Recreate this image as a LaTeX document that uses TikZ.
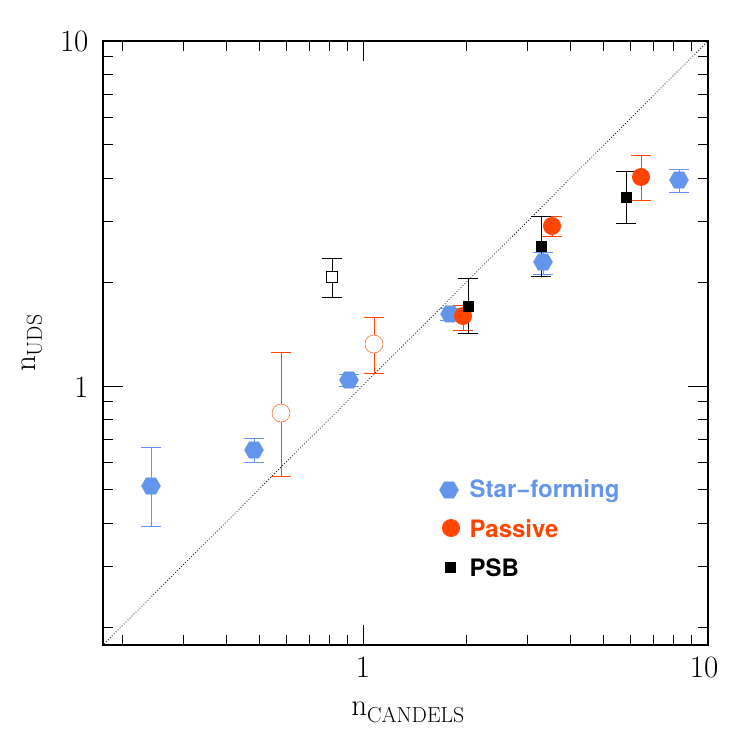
\documentclass[tikz,border=0pt]{standalone}
\usepackage{fontspec}
\newfontfamily\legfont{TeX Gyre Heros}
\usetikzlibrary{shapes.geometric}
\definecolor{sfblue}{RGB}{100,149,237}
\definecolor{pasred}{RGB}{255,69,0}
\tikzset{
 hexa/.style={regular polygon,regular polygon sides=6,fill=sfblue,draw=sfblue,inner sep=0pt,minimum size=19pt},
 fcirc/.style={circle,fill=pasred,inner sep=0pt,minimum size=18pt},
 ocirc/.style={circle,draw=pasred,inner sep=0pt,minimum size=18pt},
 fsq/.style={rectangle,fill=black,inner sep=0pt,minimum size=11pt},
 osq/.style={rectangle,draw=black,inner sep=0pt,minimum size=11pt},
 lab/.style={font=\fontsize{31}{34}\selectfont},
 leg/.style={anchor=west,font=\fontsize{24}{28}\selectfont\legfont\bfseries},
}
\newcommand{\ebar}[4]{\draw[#4,line width=0.6pt] (#1,#2)--(#1,#3) (#1-10,#2)--(#1+10,#2) (#1-10,#3)--(#1+10,#3);}
\begin{document}
\begin{tikzpicture}[x=1pt,y=-1pt]
\useasboundingbox[fill=white] (0,0) rectangle (747,747);
% frame
\draw[line width=1.2pt] (103,41) rectangle (708,645);
% x ticks
\foreach \v in {0.2,0.3,0.4,0.5,0.6,0.7,0.8,0.9,2,3,4,5,6,7,8,9}{
 \pgfmathsetmacro\xx{363+344*log10(\v)}
 \draw[line width=0.8pt] (\xx,645)--(\xx,635) (\xx,41)--(\xx,51);}
\draw[line width=0.8pt] (363,645)--(363,625) (363,41)--(363,61);
% y ticks
\foreach \v in {0.2,0.3,0.4,0.5,0.6,0.7,0.8,0.9,2,3,4,5,6,7,8,9}{
 \pgfmathsetmacro\yy{386-345*log10(\v)}
 \draw[line width=0.8pt] (103,\yy)--(113,\yy) (708,\yy)--(698,\yy);}
\draw[line width=0.8pt] (103,386)--(123,386) (708,386)--(688,386);
% diagonal
\draw[dotted,line width=0.8pt] (104,644)--(708,41);
% labels
\node[lab] at (363,667) {1};
\node[lab] at (704,667) {10};
\node[lab,anchor=east] at (92,42) {10};
\node[lab,anchor=east] at (92,387) {1};
\node[lab] at (408,712) {n$_{\mathrm{CANDELS}}$};
\node[lab,rotate=90] at (32,343) {n$_{\mathrm{UDS}}$};
% error bars
\ebar{151}{447}{526}{sfblue}
\ebar{254}{438}{462}{sfblue}
\ebar{349}{374}{386}{sfblue}
\ebar{450}{308}{320}{sfblue}
\ebar{543}{252}{274}{sfblue}
\ebar{679}{169}{192}{sfblue}
\ebar{463}{305}{330}{pasred}
\ebar{552}{216}{236}{pasred}
\ebar{641}{155}{200}{pasred}
\ebar{281}{352}{476}{pasred}
\ebar{374}{317}{373}{pasred}
\ebar{468}{278}{333}{black}
\ebar{541}{216}{276}{black}
\ebar{626}{171}{223}{black}
\ebar{332}{258}{297}{black}
% points
\foreach \p/\q in {151/486,254/450,349/380,450/314,543/262,679/180}{\node[hexa] at (\p,\q) {};}
\foreach \p/\q in {463/316,552/226,641/177}{\node[fcirc] at (\p,\q) {};}
\foreach \p/\q in {281/413,374/344}{\node[ocirc,fill=white] at (\p,\q) {};}
\foreach \p/\q in {468/306,541/246,626/197}{\node[fsq] at (\p,\q) {};}
\node[osq,fill=white] at (332,277) {};
% legend
\node[hexa] (lh) at (449,490) {};
\node[fcirc] (lc) at (451,528) {};
\node[fsq] (ls) at (450,567) {};
\node[leg,text=sfblue] at (466,491) {Star−forming};
\node[leg,text=pasred] at (466,529) {Passive};
\node[leg,text=black] at (466,568) {PSB};
\end{tikzpicture}
\end{document}
